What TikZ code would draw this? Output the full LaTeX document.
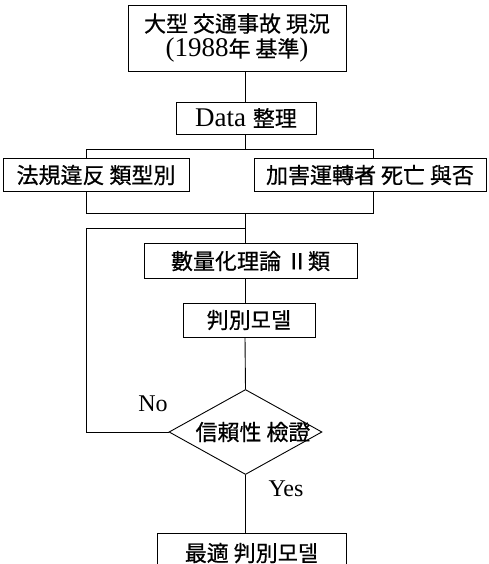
\documentclass[tikz,border=0pt]{standalone}
\usepackage{fontspec}
\setmainfont{Liberation Serif}
\newfontfamily\krfam[FakeBold=0.6]{Noto Sans CJK KR}
\newcommand\krt[1]{{\krfam\fontsize{22}{24}\selectfont #1}}
\usetikzlibrary{shapes.geometric}
\begin{document}
\begin{tikzpicture}[x=1pt,y=-1pt,line width=0.9pt,
  box/.style={draw,rectangle,inner sep=0pt,align=center,font=\fontsize{27}{27}\selectfont},
  lbl/.style={inner sep=0pt,font=\fontsize{24}{24}\selectfont}]
\clip (0,0) rectangle (489,564);
\node[box,minimum width=218pt,minimum height=66pt] (b1) at (237,38)
  {\krt{大型 交通事故 現況}\\[-2pt](1988\krt{年 基準})};
\node[box,minimum width=140pt,minimum height=32pt] (b2) at (246,118) {Data \krt{整理}};
\node[box,minimum width=186pt,minimum height=33pt] (b3) at (96,175) {\krt{法規違反 類型別}};
\node[box,minimum width=232pt,minimum height=33pt] (b4) at (370,175) {\krt{加害運轉者 死亡 與否}};
\node[box,minimum width=213pt,minimum height=35pt] (b5) at (250.5,261) {\krt{數量化理論 Ⅱ類}};
\node[box,minimum width=132pt,minimum height=34pt] (b6) at (249,320) {\krt{判別모델}};
\node[draw,diamond,inner sep=0pt,minimum width=153pt,minimum height=85pt] (dec) at (245.5,432) {};
\node[inner sep=0pt] (dtext) at (253,432) {\krt{信賴性 檢證}};
\node[box,minimum width=189pt,minimum height=40pt] (b7) at (251.5,553) {\krt{最適 判別모델}};
\node[lbl] (no) at (153,404) {No};
\node[lbl] (yes) at (286,489) {Yes};
\coordinate (s0) at (245,149);
\coordinate (s1) at (86,149);
\coordinate (s2) at (373,149);
\coordinate (m0) at (245,213);
\coordinate (m1) at (86,213);
\coordinate (m2) at (373,213);
\coordinate (f1) at (86,432);
\coordinate (f2) at (86,228);
\coordinate (f3) at (245,228);
\draw (s0 |- b1.south) -- (s0 |- b2.north);
\draw (s0 |- b2.south) -- (s0);
\draw (s1 |- b3.north) -- (s1) -- (s2) -- (s2 |- b4.north);
\draw (s1 |- b3.south) -- (m1) -- (m2) -- (s2 |- b4.south);
\draw (m0) -- (m0 |- b5.north);
\draw (dec.west) -- (f1) -- (f2) -- (f3);
\draw (m0 |- b5.south) -- (m0 |- b6.north);
\draw (m0 |- b6.south) -- (dec.north);
\draw (dec.south) -- (dec.south |- b7.north);
\end{tikzpicture}
\end{document}
